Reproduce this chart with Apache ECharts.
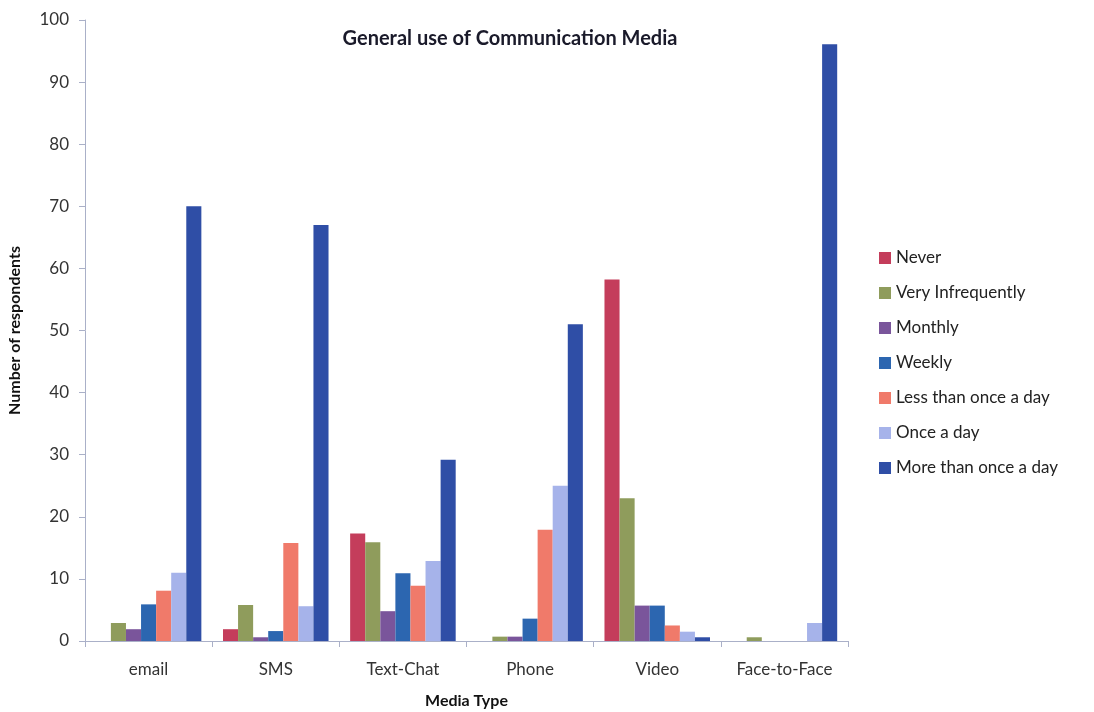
<!DOCTYPE html>
<html><head><meta charset="utf-8">
<script src="https://cdn.jsdelivr.net/npm/echarts@6/dist/echarts.min.js"></script>
<style>html,body{margin:0;padding:0;background:#fff}#c{width:1094px;height:712px}</style>
</head><body><div id="c"></div>
<script>
const categories = ['email','SMS','Text-Chat','Phone','Video','Face-to-Face'];
const seriesNames = ['Never','Very Infrequently','Monthly','Weekly','Less than once a day','Once a day','More than once a day'];
const never      = [0, 1.9, 17.3, 0, 58.2, 0];
const veryInfreq = [2.9, 5.8, 15.9, 0.7, 23.0, 0.6];
const monthly    = [1.9, 0.6, 4.8, 0.7, 5.7, 0];
const weekly     = [5.9, 1.6, 10.9, 3.6, 5.7, 0];
const lessDaily  = [8.1, 15.8, 8.9, 17.9, 2.5, 0];
const onceDaily  = [11.0, 5.6, 12.9, 25.0, 1.5, 2.9];
const moreDaily  = [70.0, 67.0, 29.2, 51.0, 0.6, 96.1];
const yTicks = [0,10,20,30,40,50,60,70,80,90,100];

const colors = ['#c43d5b','#8f9c5c','#7a559b','#2c66b0','#f07a6a','#a6b3ea','#2f4ea6'];
const dataSets = [never, veryInfreq, monthly, weekly, lessDaily, onceDaily, moreDaily];
const font = 'Lato, "Open Sans", sans-serif';

const chart = echarts.init(document.getElementById('c'));
chart.setOption({
  animation: false,
  color: colors,
  title: {
    text: 'General use of Communication Media',
    left: 505, top: 24, textAlign: 'center',
    textStyle: {fontFamily: font, fontSize: 20, fontWeight: 'bold', color: '#1a1a2a'}
  },
  grid: {left: 85, right: 246, top: 20, bottom: 71, outerBoundsMode: 'none', containLabel: false},
  legend: {
    orient: 'vertical', left: 874, top: 244, itemGap: 17,
    itemWidth: 12, itemHeight: 12, icon: 'rect',
    data: seriesNames,
    textStyle: {fontFamily: font, fontSize: 17, color: '#222', lineHeight: 18}
  },
  xAxis: {
    type: 'category', data: categories,
    name: 'Media Type', nameLocation: 'middle', nameGap: 52,
    nameTextStyle: {fontFamily: font, fontSize: 16, fontWeight: 'bold', color: '#111'},
    axisLine: {lineStyle: {color: '#aab0c8'}},
    axisTick: {show: true, alignWithLabel: false, length: 6, lineStyle: {color: '#aab0c8'}},
    axisLabel: {fontFamily: font, fontSize: 17, color: '#333', margin: 20}
  },
  yAxis: {
    type: 'value', min: 0, max: 100, interval: 10,
    name: 'Number of respondents', nameLocation: 'middle', nameGap: 62, nameRotate: 90,
    nameTextStyle: {fontFamily: font, fontSize: 16, fontWeight: 'bold', color: '#111'},
    splitLine: {show: false},
    axisLine: {show: true, lineStyle: {color: '#aab0c8'}},
    axisTick: {show: true, length: 6, lineStyle: {color: '#aab0c8'}},
    axisLabel: {fontFamily: font, fontSize: 17, color: '#333', margin: 16,
      formatter: v => yTicks.includes(v) ? String(v) : ''}
  },
  series: seriesNames.map((n, i) => ({
    name: n, type: 'bar', data: dataSets[i],
    barGap: '0%', barCategoryGap: '17%',
    itemStyle: {color: colors[i]}
  }))
});
</script></body></html>
